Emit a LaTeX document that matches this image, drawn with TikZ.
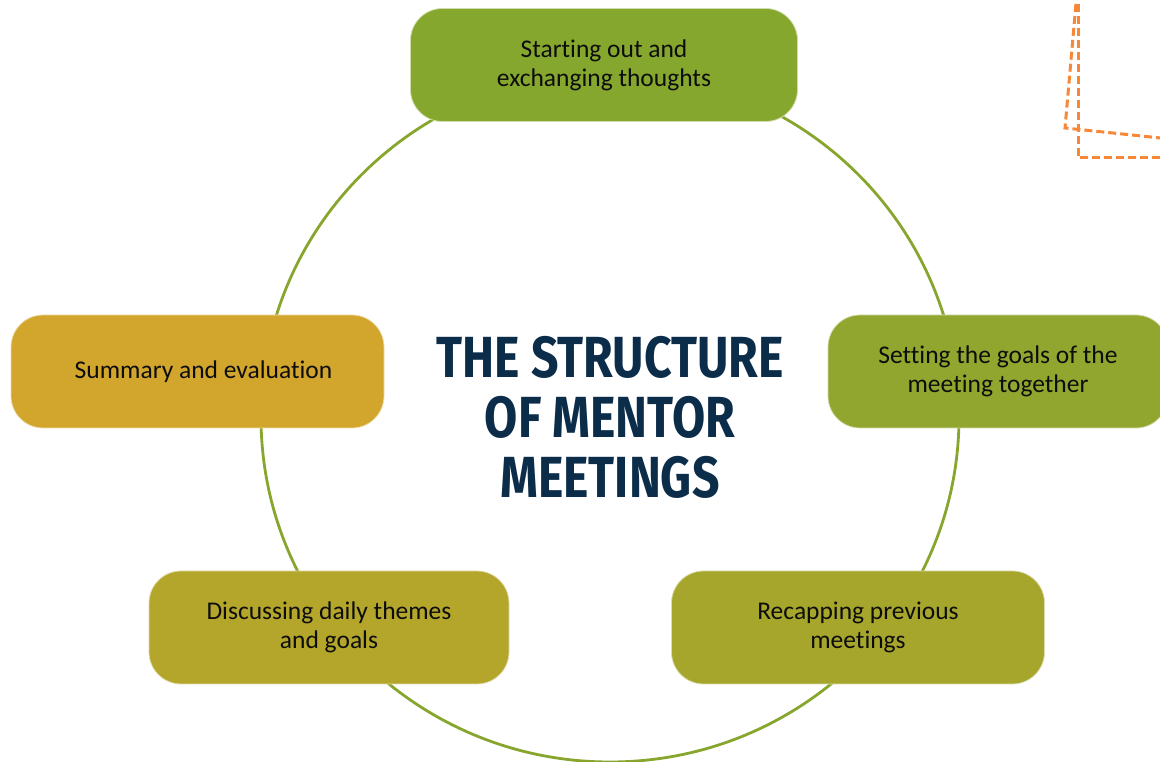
\documentclass[tikz,border=0pt]{standalone}
\usepackage{fontspec}
\setmainfont{Carlito}[Ligatures={NoCommon}]
\newfontfamily\titlefont{Fira Sans}[FakeStretch=0.83]
\usetikzlibrary{
  positioning
}
\definecolor{ringgreen}{HTML}{88A62E}
\definecolor{stepA}{HTML}{86A72E}
\definecolor{stepB}{HTML}{91A62E}
\definecolor{stepC}{HTML}{A6A62C}
\definecolor{stepD}{HTML}{B4A62B}
\definecolor{stepE}{HTML}{D2A62C}
\definecolor{titleblue}{HTML}{0C2D4A}
\definecolor{deco}{HTML}{F7883A}

\begin{document}
\begin{tikzpicture}[
      x=1pt,y=1pt,
      stage/.style={
         rectangle,
         rounded corners=32pt,
         minimum height=113pt,
         minimum width=#1,
         fill=stepA,
         draw=white!60!stepA,
         line width=0.8pt,
         align=center,
         font=\fontsize{25.5}{29}\selectfont,
         text=black!95
      },
      ring/.style={draw=ringgreen, line width=2.8pt},
      decoline/.style={draw=deco, line width=3pt, dash pattern=on 8pt off 4pt},
      heading/.style={
         align=center,
         text=titleblue,
         font=\titlefont\bfseries\fontsize{58}{60}\selectfont
      }
    ]
    \useasboundingbox (0,0) rectangle (1160,762);
    \clip (0,0) rectangle (1160,762);
    \coordinate (c) at (610,345);
    \draw[ring] (c) ellipse [x radius=349, y radius=345];
    % the five steps
    \node (n1) [stage=387pt, fill=stepA, draw=white!60!stepA] at (604,697) {Starting out and\\exchanging thoughts};
    \node (n2) [stage=340pt, fill=stepB, draw=white!60!stepB] at (998,390.5) {Setting the goals of the\\meeting together};
    \node (n3) [stage=373pt, fill=stepC, draw=white!60!stepC] at (858,134.5) {Recapping previous\\meetings};
    \node (n4) [stage=360pt, fill=stepD, draw=white!60!stepD] at (329,134.5) {Discussing daily themes\\and goals};
    \node (n5) [stage=373pt, fill=stepE, draw=white!60!stepE] at (197.5,390.5) {\hspace*{12pt}Summary and evaluation};
    \node (n0) [heading] at (c) {THE STRUCTURE\\OF MENTOR\\MEETINGS};
    % corner decoration
    \draw[decoline] (1077,770) -- (1065,634) -- (1170,623);
    \draw[decoline] (1078,770) -- (1078,604) -- (1170,604);
\end{tikzpicture}
\end{document}
